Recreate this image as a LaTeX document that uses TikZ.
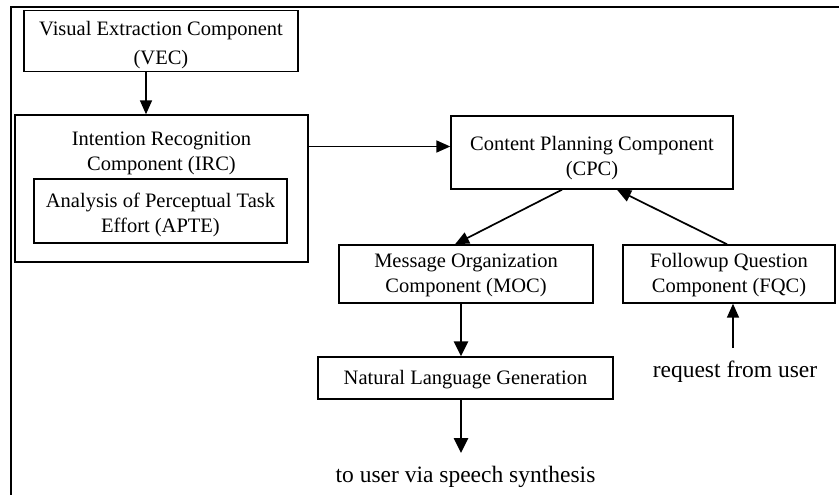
\documentclass[tikz,border=0pt]{standalone}
\usepackage{fontspec}
\setmainfont{Liberation Serif}
\usetikzlibrary{arrows.meta}
\begin{document}
\begin{tikzpicture}[x=1pt,y=-1pt,
  boxtext/.style={align=center, inner sep=0pt, font=\fontsize{20.5}{25}\selectfont},
  frame/.style={draw, line width=1.4pt, inner sep=0pt},
  lbl/.style={inner sep=13pt, font=\fontsize{23.5}{28}\selectfont},
  arr/.style={line width=1.7pt, -{Triangle[length=14pt,width=12pt]}},
  boldarr/.style={line width=2.6pt, -{Triangle[length=15pt,width=14pt]}}
]
\useasboundingbox (0,0) rectangle (839,495);
% outer frame, running past the right and bottom edges
\begin{scope}
  \clip (0,0) rectangle (839,495);
  \draw[line width=1.3pt] (11,7) rectangle (870,530);
\end{scope}

% component frames
\node[frame, minimum width=274, minimum height=61] (vec) at (161,41) {};
\node[frame, minimum width=293, minimum height=147] (irc) at (161.5,188.5) {};
\node[frame, minimum width=253, minimum height=64] (apte) at (160.5,211) {};
\node[frame, minimum width=282, minimum height=73] (cpc) at (592,152.5) {};
\node[frame, minimum width=254, minimum height=58] (moc) at (466,274) {};
\node[frame, minimum width=212, minimum height=58] (fqc) at (729,274) {};
\node[frame, minimum width=295, minimum height=42] (nlg) at (465.5,378) {};

% component names
\node[boxtext, font=\fontsize{20.5}{28.5}\selectfont] (vectext) at ([yshift=-4pt]vec.center) {Visual Extraction Component\\(VEC)};
\node[boxtext] (irctext) at (161.5,153) {Intention Recognition\\Component (IRC)};
\node[boxtext] (aptetext) at ([yshift=-4pt]apte.center) {Analysis of Perceptual Task\\Effort (APTE)};
\node[boxtext] (cpctext) at ([yshift=-6pt]cpc.center) {Content Planning Component\\(CPC)};
\node[boxtext] (moctext) at ([yshift=-1.5pt]moc.center) {Message Organization\\Component (MOC)};
\node[boxtext] (fqctext) at ([yshift=-1.5pt]fqc.center) {Followup Question\\Component (FQC)};
\node[boxtext] (nlgtext) at ([yshift=-2pt]nlg.center) {Natural Language Generation};

% free labels
\node[lbl, anchor=north] (out) at (465.5,453) {to user via speech synthesis};
\node[lbl, anchor=north] (req) at (735,348) {request from user};

% connectors
\draw[arr] ([xshift=-15pt]vec.south) -- ([xshift=-15pt]vec.south |- irc.north);
\draw[arr] ([yshift=6pt]cpc.west -| irc.east) -- ([yshift=6pt]cpc.west);
\draw[arr] ([xshift=-30pt]cpc.south) -- ([xshift=-11pt]moc.north);
\draw[arr] ([xshift=-2pt]fqc.north) -- ([xshift=25pt]cpc.south);
\draw[boldarr] ([xshift=-5pt]moc.south) -- ([xshift=-5pt]moc.south |- nlg.north);
\draw[boldarr] ([xshift=-5pt]moc.south |- nlg.south) -- ([xshift=-5pt]moc.south |- out.north);
\draw[arr] (req.north -| fqc.south) ++(4pt,0) -- ([xshift=4pt]fqc.south);
\end{tikzpicture}
\end{document}
